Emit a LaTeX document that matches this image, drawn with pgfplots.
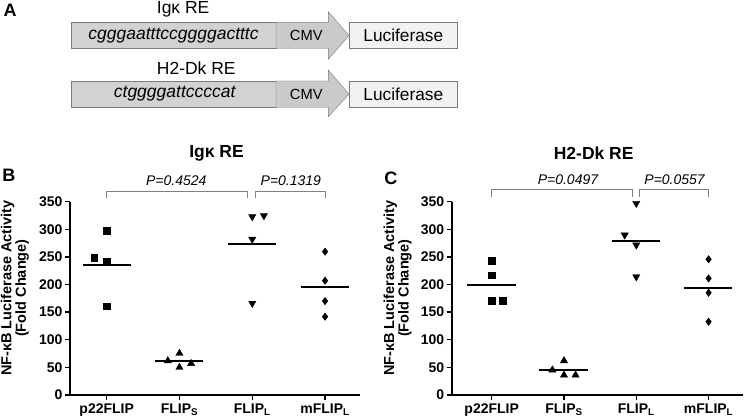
\documentclass[border=0pt]{standalone}
\usepackage{fontspec}
\setmainfont{Liberation Sans}
\usepackage{pgfplots}
\pgfplotsset{compat=1.18}
\definecolor{boxc}{HTML}{D2D2D2}
\definecolor{arrc}{HTML}{CACACA}
\definecolor{lucc}{HTML}{F2F2F2}
\definecolor{edgec}{HTML}{7A7A7A}
\definecolor{brc}{HTML}{808080}
\newcommand{\fs}[1]{\fontsize{#1}{#1}\selectfont}
\pgfplotsset{myax/.style={
  scale only axis, height=193.3pt, ymin=0, ymax=350, ytick={0,50,...,350},
  axis x line*=bottom, axis y line*=left,
  axis line style={-, line width=1.6pt, black},
  tick style={line width=1.4pt, black}, tick align=outside, major tick length=5pt,
  xtick={0,1,2,3},
  xticklabels={p22FLIP, FLIP\textsubscript{S}, FLIP\textsubscript{L}, mFLIP\textsubscript{L}},
  ticklabel style={font=\bfseries\fs{14}},
  yticklabel style={xshift=1pt},
  /pgf/number format/assume math mode=true,
  clip=false,
  ylabel={NF-κB Luciferase Activity\\(Fold Change)},
}}
\begin{document}
\begin{tikzpicture}[x=1pt,y=1pt]
\path[use as bounding box] (0,0) rectangle (745,418);
% ---------- Panel A ----------
\node[font=\bfseries\fs{18}] at (10,408) {A};
\node[font=\fs{17.5}, anchor=west, inner sep=0] at (156.7,408.5) {Igκ RE};
\filldraw[fill=boxc, draw=edgec] (71,369.7) rectangle (276,395.3);
\node[font=\itshape\fs{17.5}] at (173.5,382.5) {cgggaatttccggggactttc};
\filldraw[fill=arrc, draw=edgec] (276,395.3) -- (328.3,395.3) -- (328.3,406.3) -- (349,382.5) -- (328.3,358.7) -- (328.3,369.7) -- (276,369.7) -- cycle;
\node[font=\fs{14.7}] at (306.3,382.5) {CMV};
\filldraw[fill=lucc, draw=edgec] (349.3,369.7) rectangle (457.3,395.7);
\node[font=\fs{17.3}] at (403.3,382.5) {Luciferase};
\node[font=\fs{17.5}, anchor=west, inner sep=0] at (156.7,349.7) {H2-Dk RE};
\filldraw[fill=boxc, draw=edgec] (71,310.7) rectangle (276,337);
\node[font=\itshape\fs{17.5}] at (174.7,323.85) {ctggggattccccat};
\filldraw[fill=arrc, draw=edgec] (276,337) -- (328.3,337) -- (328.3,348) -- (349,323.85) -- (328.3,301.3) -- (328.3,310.7) -- (276,310.7) -- cycle;
\node[font=\fs{14.7}] at (306.3,323.85) {CMV};
\filldraw[fill=lucc, draw=edgec] (349.3,310.7) rectangle (457.3,337);
\node[font=\fs{17.3}] at (403.3,323.85) {Luciferase};
% ---------- titles and panel letters ----------
\node[font=\bfseries\fs{17.5}] at (216.5,265) {Igκ RE};
\node[font=\bfseries\fs{17.5}] at (593.7,265) {H2-Dk RE};
\node[font=\bfseries\fs{18}] at (8.8,243) {B};
\node[font=\bfseries\fs{18}] at (390.8,239.5) {C};
% ---------- Panel B ----------
\begin{axis}[myax, at={(70pt,23pt)}, anchor=south west, width=290pt,
  xmin=-0.504, xmax=3.48,
  ylabel style={align=center, font=\bfseries\fontsize{14.5}{12.5}\selectfont, at={(axis description cs:-0.19,0.553)}, anchor=center}]
\addplot[only marks, mark=square*, mark size=3.3pt] coordinates {(-0.17,248.6) (0,297) (0,241.4) (0,161)};
\addplot[only marks, mark=triangle*, mark size=4.2pt] coordinates {(0.84,62) (1,75.4) (1,50) (1.16,57)};
\addplot[only marks, mark=triangle*, mark size=4.2pt, mark options={rotate=180}] coordinates {(2,322.8) (2.16,324.7) (2,282) (2,166)};
\addplot[only marks, mark=diamond*, mark size=3.7pt] coordinates {(3,259.5) (3,207) (3,170) (3,141.8)};
\addplot[black, line width=1.8pt] coordinates {(-0.33,236) (0.33,236)};
\addplot[black, line width=1.8pt] coordinates {(0.67,62) (1.33,62)};
\addplot[black, line width=1.8pt] coordinates {(1.67,273.4) (2.33,273.4)};
\addplot[black, line width=1.8pt] coordinates {(2.67,196) (3.33,196)};
\draw[brc, line width=0.9pt] (axis cs:0,356) -- (axis cs:0,368) -- (axis cs:1.94,368) -- (axis cs:1.94,356);
\draw[brc, line width=0.9pt] (axis cs:2.04,356) -- (axis cs:2.04,368) -- (axis cs:3,368) -- (axis cs:3,356);
\node[font=\itshape\fs{14}] at (axis cs:0.956,388) {P=0.4524};
\node[font=\itshape\fs{14}] at (axis cs:2.53,388) {P=0.1319};
\end{axis}
% ---------- Panel C ----------
\begin{axis}[myax, at={(451.7pt,23pt)}, anchor=south west, width=291.6pt,
  xmin=-0.553, xmax=3.48,
  ylabel style={align=center, font=\bfseries\fontsize{14.5}{12.5}\selectfont, at={(axis description cs:-0.185,0.553)}, anchor=center}]
\addplot[only marks, mark=square*, mark size=3.3pt] coordinates {(0,243) (0,216.7) (0,170.8) (0.15,170.8)};
\addplot[only marks, mark=triangle*, mark size=4.2pt] coordinates {(0.84,45.3) (1,62) (1,36) (1.16,36)};
\addplot[only marks, mark=triangle*, mark size=4.2pt, mark options={rotate=180}] coordinates {(2,347) (1.84,289.7) (2,271.6) (2,214)};
\addplot[only marks, mark=diamond*, mark size=3.7pt] coordinates {(3,245.7) (3,211) (3,185) (3,132.7)};
\addplot[black, line width=1.8pt] coordinates {(-0.34,199.7) (0.33,199.7)};
\addplot[black, line width=1.8pt] coordinates {(0.66,45.8) (1.33,45.8)};
\addplot[black, line width=1.8pt] coordinates {(1.66,279.4) (2.33,279.4)};
\addplot[black, line width=1.8pt] coordinates {(2.66,194.3) (3.33,194.3)};
\draw[brc, line width=0.9pt] (axis cs:0,359) -- (axis cs:0,372.4) -- (axis cs:1.94,372.4) -- (axis cs:1.94,359);
\draw[brc, line width=0.9pt] (axis cs:2.04,359) -- (axis cs:2.04,372.4) -- (axis cs:3,372.4) -- (axis cs:3,359);
\node[font=\itshape\fs{14}] at (axis cs:1.055,389) {P=0.0497};
\node[font=\itshape\fs{14}] at (axis cs:2.53,389) {P=0.0557};
\end{axis}
\end{tikzpicture}
\end{document}
